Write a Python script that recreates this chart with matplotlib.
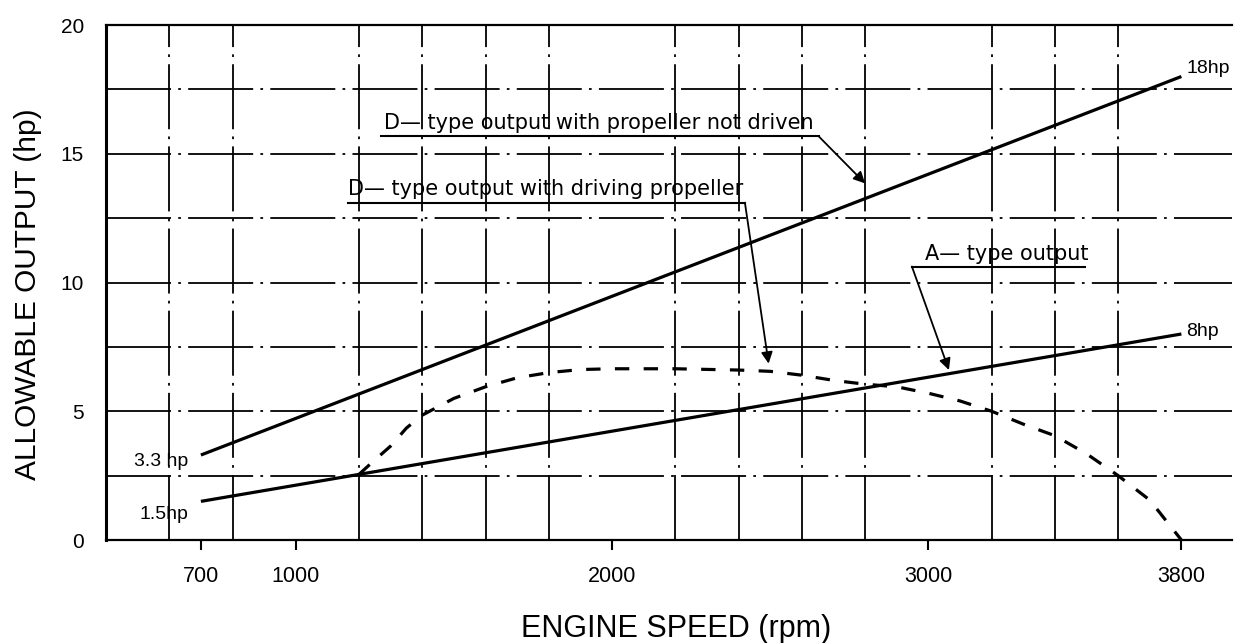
import numpy as np
import matplotlib.pyplot as plt

plt.rcParams['font.family'] = ['Liberation Sans', 'DejaVu Sans']

# straight output lines (end points)
line_rpm = [700, 3800]
d_free_hp = [3.3, 18.0]      # D-type, propeller not driven
a_type_hp = [1.5, 8.0]       # A-type

# D-type output with driving propeller (dashed)
d_prop_rpm = [1200, 1240, 1300, 1350, 1400, 1500, 1600, 1700, 1800, 1900, 2000,
              2200, 2400, 2500, 2600, 2700, 2800, 2900, 3000, 3100, 3200, 3300,
              3400, 3500, 3600, 3700, 3800]
d_prop_hp = [2.55, 3.0, 3.65, 4.35, 4.85, 5.5, 5.95, 6.3, 6.5, 6.62, 6.65,
             6.65, 6.6, 6.55, 6.4, 6.2, 6.05, 5.95, 5.7, 5.4, 5.0, 4.5,
             4.05, 3.35, 2.5, 1.55, 0.0]

x_ticks = [700, 1000, 2000, 3000, 3800]
y_ticks = [0, 5, 10, 15, 20]
x_grid = np.arange(600, 3801, 200)
y_grid = np.arange(0, 20.1, 2.5)

fig = plt.figure(figsize=(12.34, 6.43), dpi=100)
ax = fig.add_axes([106 / 1234, 1 - 540 / 643, 1126 / 1234, 515 / 643])

ax.set_xlim(400, 3960)
ax.set_ylim(0, 20)

ax.set_xticks(x_ticks)
ax.set_xticks(x_grid, minor=True)
ax.set_yticks(y_ticks)
ax.set_yticks(y_grid, minor=True)

# scanned grid is broken up, so use a long dash-dot pattern
grid_style = dict(color='black', linewidth=1.3, linestyle=(0, (36, 4, 1.5, 4)))
ax.xaxis.grid(True, which='minor', **grid_style)
ax.yaxis.grid(True, which='both', **grid_style)
ax.set_axisbelow(True)

ax.tick_params(axis='x', which='major', direction='out', length=7, width=1.5,
               pad=12, labelsize=15.5)
ax.tick_params(axis='y', which='major', length=0, pad=16, labelsize=15)
ax.tick_params(which='minor', length=0)

ax.spines['right'].set_visible(False)
ax.spines['left'].set_linewidth(2.2)
ax.spines['bottom'].set_linewidth(1.6)
ax.spines['top'].set_linewidth(1.6)

ax.plot(line_rpm, d_free_hp, color='black', linewidth=2.3, solid_capstyle='butt')
ax.plot(line_rpm, a_type_hp, color='black', linewidth=2.3, solid_capstyle='butt')
ax.plot(d_prop_rpm, d_prop_hp, color='black', linewidth=2.3,
        linestyle=(0, (4.5, 4.5)))

# end labels
ax.text(3815, 18.3, '18hp', fontsize=14, ha='left', va='center')
ax.text(3815, 8.1, '8hp', fontsize=14, ha='left', va='center')
ax.text(660, 3.05, '3.3 hp', fontsize=14, ha='right', va='center')
ax.text(660, 1.0, '1.5hp', fontsize=14, ha='right', va='center')

arrow = dict(arrowstyle='-|>', color='black', lw=1.3, mutation_scale=17,
             shrinkA=0, shrinkB=0)
note_font = dict(fontsize=15, family=['DejaVu Sans'], ha='left', va='baseline')

# D-type, propeller not driven
ax.text(1280, 15.95, 'D\u2014 type output with propeller not driven', **note_font)
ax.plot([1269, 2653], [15.68, 15.68], color='black', linewidth=1.5)
ax.annotate('', xy=(2800, 13.85), xytext=(2653, 15.68), arrowprops=arrow)

# D-type, driving propeller
ax.text(1165, 13.38, 'D\u2014 type output with driving propeller', **note_font)
ax.plot([1165, 2420], [13.1, 13.1], color='black', linewidth=1.5)
ax.annotate('', xy=(2495, 6.85), xytext=(2420, 13.1), arrowprops=arrow)

# A-type
ax.text(2989, 10.88, 'A\u2014 type output', **note_font)
ax.plot([2948, 3496], [10.62, 10.62], color='black', linewidth=1.5)
ax.annotate('', xy=(3065, 6.6), xytext=(2948, 10.62), arrowprops=arrow)

ax.set_xlabel('ENGINE SPEED (rpm)', fontsize=22)
ax.set_ylabel('ALLOWABLE OUTPUT (hp)', fontsize=21.5)
ax.xaxis.set_label_coords(0.506, -0.144)
ax.yaxis.set_label_coords(-0.057, 0.478)

fig.savefig('out.png', dpi=100)
